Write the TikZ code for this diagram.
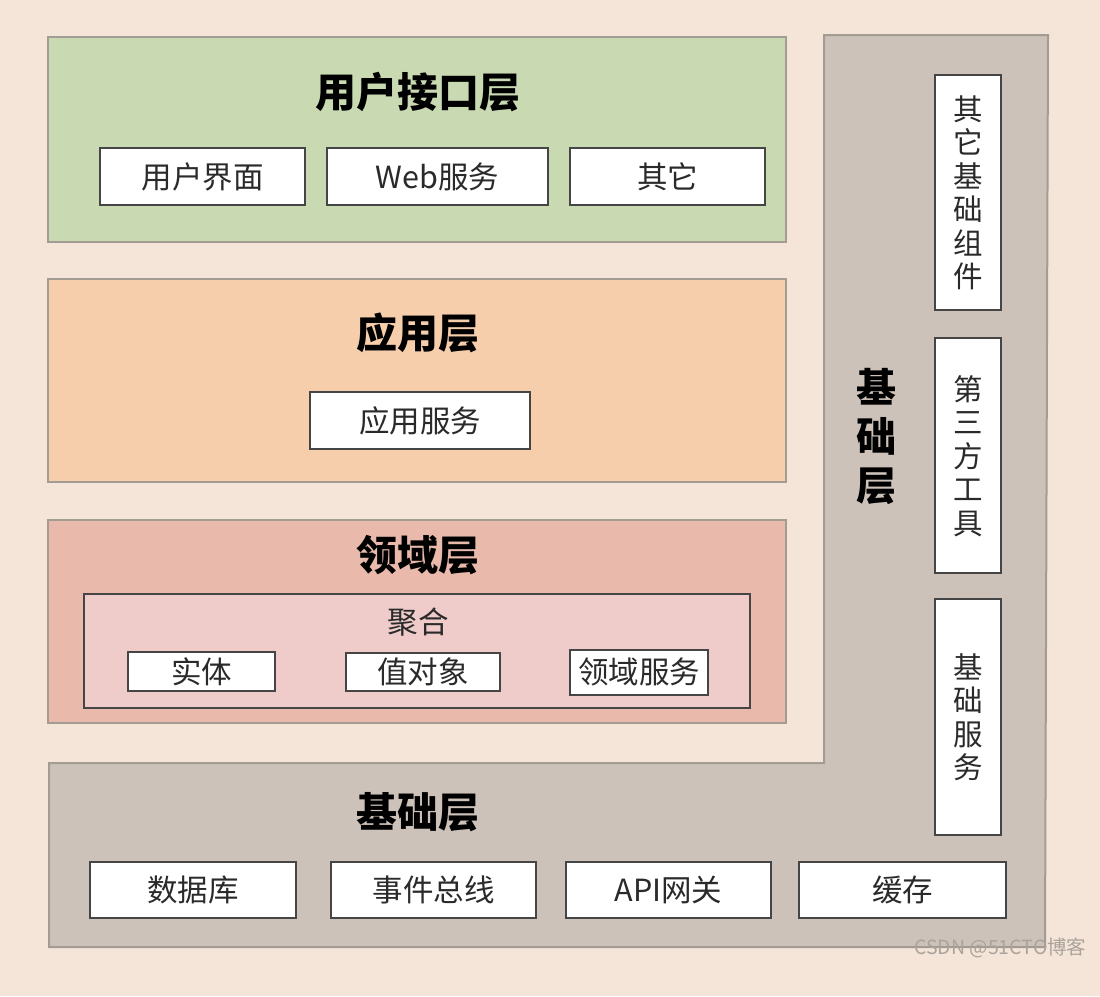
\documentclass[tikz,border=0pt]{standalone}
\usepackage{fontspec}
\setmainfont{Noto Sans CJK SC}
\begin{document}
\begin{tikzpicture}[x=1pt,y=-1pt,
  panel/.style={draw=panelline, line width=2pt},
  itembox/.style={draw=boxline, line width=1.3pt, fill=white, inner sep=0pt},
  itemtext/.style={font=\fontsize{30.5}{35}\selectfont, text=textc},
  title/.style={font=\fontsize{41}{48}\selectfont\bfseries, text=black},
  vtext/.style={font=\fontsize{29.5}{33.5}\selectfont, text=textc, align=center},
]
\definecolor{bgc}{HTML}{F4E5D8}
\definecolor{greenc}{HTML}{C9D9B1}
\definecolor{orangec}{HTML}{F6CEAC}
\definecolor{domainc}{HTML}{E9B9AB}
\definecolor{aggc}{HTML}{EFCBCA}
\definecolor{basec}{HTML}{CDC2B9}
\definecolor{panelline}{HTML}{A39C93}
\definecolor{boxline}{HTML}{454545}
\definecolor{textc}{HTML}{2A2A2A}
\definecolor{wmc}{HTML}{ABA39B}
\useasboundingbox (0,0) rectangle (1100,996);
\fill[bgc] (0,0) rectangle (1100,996);

% foundation L-shape
\draw[panel, fill=basec] (49,763) -- (824,763) -- (824,35) -- (1048,35) -- (1045,947) -- (49,947) -- cycle;

% user interface layer
\draw[panel, fill=greenc] (48,37) rectangle (786,242);
\node[title] (uititle) at (418,92) {用户接口层};
\draw[itembox] (100,148) rectangle (305,205);
\node[itemtext] (ui1) at (202.5,177) {用户界面};
\draw[itembox] (327,148) rectangle (548,205);
\node[itemtext] (ui2) at (437.5,177) {Web服务};
\draw[itembox] (570,148) rectangle (765,205);
\node[itemtext] (ui3) at (667.5,177) {其它};

% application layer
\draw[panel, fill=orangec] (48,279) rectangle (786,482);
\node[title] (apptitle) at (418,333) {应用层};
\draw[itembox] (310,392) rectangle (530,449);
\node[itemtext] (app1) at (420,421) {应用服务};

% domain layer
\draw[panel, fill=domainc] (48,520) rectangle (786,723);
\node[title] (domtitle) at (418,555) {领域层};
\draw[draw=boxline, line width=1.3pt, fill=aggc] (84,594) rectangle (750,708);
\node[itemtext] (agg) at (418,622) {聚合};
\draw[itembox] (128,652) rectangle (275,691);
\node[itemtext] (d1) at (201.5,672) {实体};
\draw[itembox] (346,653) rectangle (500,691);
\node[itemtext] (d2) at (423,672) {值对象};
\draw[itembox] (570,650) rectangle (708,695);
\node[itemtext] (d3) at (639,672) {领域服务};

% foundation titles
\node[title, align=center, font=\fontsize{40}{49}\selectfont\bfseries] (basev) at (876,437) {基\\础\\层};
\node[title] (baseh) at (418,812) {基础层};

% vertical boxes
\draw[itembox] (935,75) rectangle (1001,310);
\node[vtext] (v1) at (968,193) {其\\它\\基\\础\\组\\件};
\draw[itembox] (935,338) rectangle (1001,573);
\node[vtext] (v2) at (968,456) {第\\三\\方\\工\\具};
\draw[itembox] (935,599) rectangle (1001,835);
\node[vtext] (v3) at (968,717) {基\\础\\服\\务};

% bottom boxes
\draw[itembox] (90,862) rectangle (296,918);
\node[itemtext] (b1) at (193,890) {数据库};
\draw[itembox] (331,862) rectangle (536,918);
\node[itemtext] (b2) at (433.5,890) {事件总线};
\draw[itembox] (566,862) rectangle (771,918);
\node[itemtext] (b3) at (668.5,890) {API网关};
\draw[itembox] (799,862) rectangle (1006,918);
\node[itemtext] (b4) at (902.5,890) {缓存};

% watermark
\node[anchor=east, font=\fontsize{19.5}{23}\selectfont, text=wmc] (wm) at (1090,948) {CSDN @51CTO博客};
\end{tikzpicture}
\end{document}
